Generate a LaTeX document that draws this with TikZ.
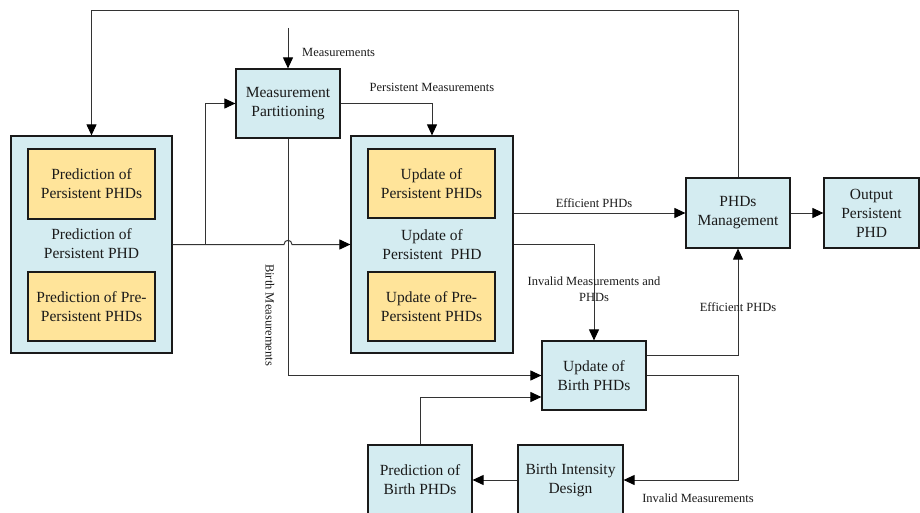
\documentclass[tikz,border=0pt]{standalone}
\usepackage{fontspec}
\setmainfont{Liberation Serif}
\newfontfamily\tnr{Liberation Serif}
\usetikzlibrary{arrows.meta}
\definecolor{bluec}{HTML}{D4ECF1}
\definecolor{orangec}{HTML}{FFE49A}
\definecolor{linec}{HTML}{333333}
\definecolor{boxc}{HTML}{1A1A1A}
\definecolor{textc}{HTML}{1A1A1A}
\begin{document}
\begin{tikzpicture}[x=1pt,y=-1pt,
  line/.style={draw=linec, line width=1pt},
  arr/.style={line, -{Triangle[length=11pt,width=10pt,color=black]}},
  bbox/.style={draw=boxc, line width=1.2pt, fill=bluec, align=center, text=textc,
    font=\tnr\fontsize{15.5}{19}\selectfont, inner sep=0pt},
  obox/.style={draw=boxc, line width=1.2pt, fill=orangec, align=center, text=textc,
    font=\tnr\fontsize{15.5}{19}\selectfont, inner sep=0pt},
  btext/.style={align=center, text=textc, font=\tnr\fontsize{15.5}{19}\selectfont, inner sep=0pt},
  lab/.style={font=\tnr\fontsize{12.5}{16}\selectfont, align=center, inner sep=0pt, text=textc}]
\useasboundingbox (0,0) rectangle (920,513);
\clip (0,0) rectangle (920,513);

% left big box
\node[bbox, minimum width=161pt, minimum height=217pt] (pred) at (91.5,244.5) {};
\node[obox, minimum width=127pt, minimum height=70pt] (predP) at (91.5,184) {Prediction of\\Persistent PHDs};
\node[obox, minimum width=127pt, minimum height=69pt] (predPre) at (91.5,306.5) {Prediction of Pre-\\Persistent PHDs};
\node[btext] (predt) at (91.5,244) {Prediction of\\Persistent PHD};

% measurement partitioning
\node[bbox, minimum width=104pt, minimum height=69pt] (MP) at (288,103.5) {Measurement\\Partitioning};

% update big box
\node[bbox, minimum width=162pt, minimum height=217pt] (upd) at (432,244.5) {};
\node[obox, minimum width=127pt, minimum height=69pt] (updP) at (431.5,183.5) {Update of\\Persistent PHDs};
\node[obox, minimum width=127pt, minimum height=69pt] (updPre) at (431.5,306.5) {Update of Pre-\\Persistent PHDs};
\node[btext] (updt) at (432,245) {Update of\\Persistent~~PHD};

% right boxes
\node[bbox, minimum width=104pt, minimum height=70pt] (PM) at (738,213) {PHDs\\Management};
\node[bbox, minimum width=95pt, minimum height=70pt] (Out) at (871.5,213) {Output\\Persistent\\PHD};

% birth boxes
\node[bbox, minimum width=104pt, minimum height=69pt] (UB) at (594,375.5) {Update of\\Birth PHDs};
\node[bbox, minimum width=105pt, minimum height=70pt] (BID) at (570.5,480) {Birth Intensity\\Design};
\node[bbox, minimum width=104pt, minimum height=70pt] (PBP) at (420,480) {Prediction of\\Birth PHDs};

% connectors
\draw[arr] (PM.north) -- ++(0,-167) -| (pred.north);

\coordinate (msrc) at (288,28);
\draw[arr] (msrc) -- (MP.north);
\node[lab, anchor=west] (lmeas) at (302,52) {Measurements};

\draw[arr] (pred.east) -- ++(33,0) |- (MP.west);
\draw[arr] (pred.east) -- (284,244.5) .. controls (284,239) and (292,239) .. (292,244.5) -- (upd.west);

\draw[arr] (MP.east) -| (upd.north);
\node[lab] (lpm) at (432,87) {Persistent Measurements};

\draw[arr] (MP.south) |- (UB.west);
\node[lab, rotate=-90] (lbm) at (270,315) {Birth Measurements};

\draw[arr] (upd.east |- PM.west) -- (PM.west);
\node[lab] (le1) at (594,203) {Efficient PHDs};

\draw[arr] (upd.east) -| (UB.north);
\node[lab] (linv) at (594,289) {Invalid Measurements and\\PHDs};

\draw[arr] ([yshift=20.5pt]UB.east) -| (PM.south);
\node[lab] (le2) at (738,307) {Efficient PHDs};

\draw[arr] (UB.east) -- ++(92,0) |- (BID.east);
\node[lab] (linv2) at (698,498) {Invalid Measurements};

\draw[arr] (BID.west) -- (PBP.east);
\draw[arr] (PBP.north) |- ([yshift=-21.5pt]UB.west);
\draw[arr] (PM.east) -- (Out.west);
\end{tikzpicture}
\end{document}
